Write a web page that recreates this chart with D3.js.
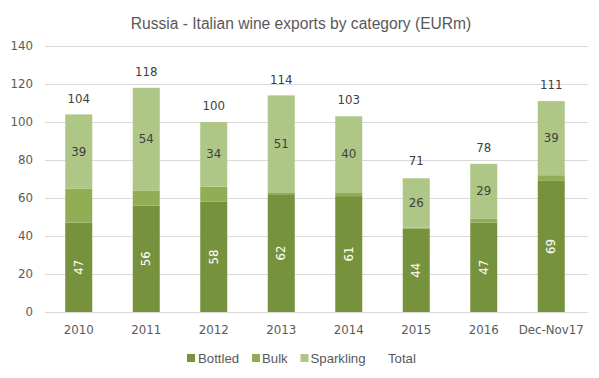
<!DOCTYPE html>
<html><head><meta charset="utf-8">
<script src="https://cdn.jsdelivr.net/npm/d3@7"></script>
<style>body{margin:0;background:#fff}</style>
</head><body>
<svg id="c" width="599" height="378"></svg>
<script>
const categories = ["2010","2011","2012","2013","2014","2015","2016","Dec-Nov17"];
const bottled   = [47, 56, 58, 62, 61, 44, 47, 69];
const bulk      = [18, 8, 8, 1, 2, 0.4, 2, 3];
const sparkling = [39, 54, 34, 51, 40, 26, 29, 39];
const totals    = [104, 118, 100, 114, 103, 71, 78, 111];
const yTicks = [0,20,40,60,80,100,120,140];
const seriesNames = ["Bottled","Bulk","Sparkling"];
const colors = ["#77923c","#92ae54","#aec686"];

const svg = d3.select("#c");
const W = 599, H = 378;
const m = {l:45, r:14, t:46, b:66};
const x = d3.scaleBand().domain(categories).range([m.l, W-m.r]).paddingInner(0.6).paddingOuter(0.3);
const y = d3.scaleLinear().domain([0,140]).range([H-m.b, m.t]);

svg.append("text").attr("x", 301).attr("y", 29).attr("text-anchor","middle")
  .attr("font-family","Liberation Sans Narrow, Arial Narrow, sans-serif").attr("font-size",15.6)
  .attr("fill","#595959").text("Russia - Italian wine exports by category (EURm)");

// grid
const ya = d3.axisLeft(y).tickValues(yTicks).tickSize(-(W-m.r-m.l+3)).tickPadding(12);
const gy = svg.append("g").attr("transform",`translate(${m.l},0)`).call(ya);
gy.select(".domain").remove();
gy.selectAll("line").attr("stroke","#d9d9d9");
gy.selectAll("text").attr("font-family","DejaVu Sans, Verdana, sans-serif").attr("font-size",11.8).attr("fill","#595959");

const rows = categories.map((c,i)=>({cat:c, Bottled:bottled[i], Bulk:bulk[i], Sparkling:sparkling[i]}));
const stack = d3.stack().keys(seriesNames)(rows);
svg.append("g").selectAll("g").data(stack).join("g").attr("fill",(d,i)=>colors[i])
  .selectAll("rect").data(d=>d).join("rect")
  .attr("x",d=>x(d.data.cat)).attr("width",x.bandwidth())
  .attr("y",d=>y(d[1])).attr("height",d=>y(d[0])-y(d[1]));

// x axis
const xa = d3.axisBottom(x).tickSize(0).tickPadding(14);
const gx = svg.append("g").attr("transform",`translate(0,${H-m.b})`).call(xa);
gx.select(".domain").attr("stroke","#d9d9d9").attr("d",`M${m.l},0.5H${W-m.r+3}`);
gx.selectAll("text").attr("font-family","DejaVu Sans, Verdana, sans-serif").attr("font-size",11.8).attr("fill","#595959");

const lf = "DejaVu Sans, Verdana, sans-serif";
// bottled labels rotated
stack[0].forEach(d=>{
  const cx = x(d.data.cat)+x.bandwidth()/2, cy=(y(d[0])+y(d[1]))/2;
  svg.append("text").attr("transform",`translate(${cx},${cy}) rotate(-90)`)
    .attr("text-anchor","middle").attr("dy","0.35em").attr("font-family",lf).attr("font-size",11.8)
    .attr("fill","#ffffff").text(d3.format(".0f")(d[1]-d[0]));
});
stack[2].forEach(d=>{
  const cx = x(d.data.cat)+x.bandwidth()/2, cy=(y(d[0])+y(d[1]))/2;
  svg.append("text").attr("x",cx).attr("y",cy).attr("text-anchor","middle").attr("dy","0.35em")
    .attr("font-family",lf).attr("font-size",11.8).attr("fill","#404040").text(d3.format(".0f")(d[1]-d[0]));
});
totals.forEach((t,i)=>{
  svg.append("text").attr("x",x(categories[i])+x.bandwidth()/2).attr("y",y(t)-16).attr("dy","0.35em")
    .attr("text-anchor","middle").attr("font-family",lf).attr("font-size",11.8).attr("fill","#404040").text(t);
});

// legend
const legendItems = [{n:"Bottled",c:colors[0],sx:187,tx:198},{n:"Bulk",c:colors[1],sx:252,tx:262},{n:"Sparkling",c:colors[2],sx:300.5,tx:310.5},{n:"Total",c:"none",sx:378,tx:388}];
const lg = svg.append("g");
legendItems.forEach(it=>{
  lg.append("rect").attr("x",it.sx).attr("y",354).attr("width",8).attr("height",8).attr("fill",it.c);
  lg.append("text").attr("x",it.tx).attr("y",358).attr("dy","0.35em")
    .attr("font-family","Liberation Sans Narrow, Arial Narrow, sans-serif").attr("font-size",13.2)
    .attr("fill","#595959").text(it.n);
});
</script>
</body></html>
